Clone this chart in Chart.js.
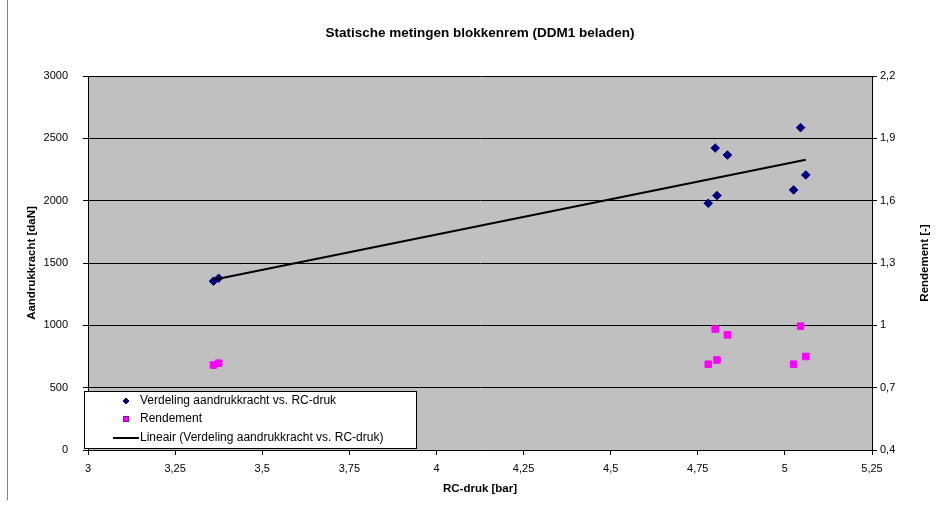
<!DOCTYPE html>
<html>
<head>
<meta charset="utf-8">
<script src="https://cdn.jsdelivr.net/npm/chart.js@4/dist/chart.umd.min.js"></script>
<style>
  html, body { margin: 0; padding: 0; background: #fff; }
  #wrap { width: 940px; height: 510px; }
</style>
</head>
<body>
<div id="wrap"><canvas id="c" width="940" height="510"></canvas></div>
<script>
// RC-druk [bar] per meting
const druk = [3.36, 3.375, 4.80, 4.835, 4.805, 4.78, 5.045, 5.06, 5.025];
// Aandrukkracht [daN]
const aandrukkracht = [1354, 1378, 2422, 2366, 2041, 1979, 2586, 2206, 2086];
// Rendement [-]
const rendement = [0.809, 0.818, 0.982, 0.954, 0.833, 0.813, 0.996, 0.850, 0.813];
// trendlijn (lineair), eindpunten
const trendX = [3.36, 5.06];
const trendY = [1366, 2329];

const xTicks = [3, 3.25, 3.5, 3.75, 4, 4.25, 4.5, 4.75, 5, 5.25];
const leftTicks = [0, 500, 1000, 1500, 2000, 2500, 3000];
const rightTicks = [0.4, 0.7, 1, 1.3, 1.6, 1.9, 2.2];

const FONT = "'Liberation Sans', Arial, sans-serif";
const comma = (v) => String(Math.round(v * 100) / 100).replace(".", ",");
const setTicks = (list) => (scale) => {
  scale.ticks = list.map((value) => ({ value }));
};

const decorations = {
  id: "decorations",
  beforeDraw(chart) {
    const { ctx, chartArea: a } = chart;
    ctx.save();
    ctx.fillStyle = "#fff";
    ctx.fillRect(0, 0, chart.width, chart.height);
    ctx.fillStyle = "#c0c0c0";
    ctx.fillRect(a.left, a.top, a.right - a.left, a.bottom - a.top);
    ctx.restore();
  },
  afterDraw(chart) {
    const { ctx, chartArea: a } = chart;
    const midY = (a.top + a.bottom) / 2;
    ctx.save();
    ctx.fillStyle = "#000";
    ctx.textBaseline = "middle";
    ctx.textAlign = "center";

    ctx.font = `bold 13.5px ${FONT}`;
    ctx.fillText("Statische metingen blokkenrem (DDM1 beladen)", (a.left + a.right) / 2, 33);

    ctx.font = `bold 11.5px ${FONT}`;
    ctx.fillText("RC-druk [bar]", (a.left + a.right) / 2, 489);

    ctx.save();
    ctx.translate(32, midY);
    ctx.rotate(-Math.PI / 2);
    ctx.fillText("Aandrukkracht [daN]", 0, 0);
    ctx.restore();

    ctx.save();
    ctx.translate(925, midY);
    ctx.rotate(-Math.PI / 2);
    ctx.fillText("Rendement [-]", 0, 0);
    ctx.restore();

    // legenda
    const lx = 84, ly = 391, lw = 332, lh = 57;
    ctx.fillStyle = "#fff";
    ctx.fillRect(lx, ly, lw, lh);
    ctx.strokeStyle = "#000";
    ctx.lineWidth = 1;
    ctx.strokeRect(lx + 0.5, ly + 0.5, lw, lh);

    const ds = chart.data.datasets;
    const rows = [401, 419, 438];
    ctx.font = `12px ${FONT}`;
    ctx.textAlign = "left";
    ds.forEach((d, i) => {
      const y = rows[i];
      if (d.showLine) {
        ctx.strokeStyle = d.borderColor;
        ctx.lineWidth = 2;
        ctx.beginPath();
        ctx.moveTo(113, y);
        ctx.lineTo(139, y);
        ctx.stroke();
      } else {
        Chart.helpers.drawPoint(ctx, {
          pointStyle: d.pointStyle,
          radius: i === 0 ? 3 : 3.6,
          borderWidth: 1,
          rotation: 0,
        }, 126, y);
        ctx.fillStyle = d.backgroundColor;
        ctx.strokeStyle = d.borderColor;
        ctx.fill();
      }
      ctx.fillStyle = "#000";
      ctx.fillText(d.label, 140, y);
    });

    // kader links
    ctx.strokeStyle = "#808080";
    ctx.lineWidth = 1;
    ctx.beginPath();
    ctx.moveTo(7.5, 0);
    ctx.lineTo(7.5, 500);
    ctx.stroke();
    ctx.restore();
  },
};

new Chart(document.getElementById("c"), {
  type: "scatter",
  data: {
    datasets: [
      {
        label: "Verdeling aandrukkracht vs. RC-druk",
        data: druk.map((x, i) => ({ x, y: aandrukkracht[i] })),
        yAxisID: "y",
        pointStyle: "rectRot",
        pointRadius: 4.3,
        backgroundColor: "#000080",
        borderColor: "#000080",
        borderWidth: 1,
        showLine: false,
        order: 2,
      },
      {
        label: "Rendement",
        data: druk.map((x, i) => ({ x, y: rendement[i] })),
        yAxisID: "y1",
        pointStyle: "rect",
        pointRadius: 4.6,
        backgroundColor: "#ff00ff",
        borderColor: "#ff00ff",
        borderWidth: 1,
        showLine: false,
        order: 1,
      },
      {
        label: "Lineair (Verdeling aandrukkracht vs. RC-druk)",
        data: trendX.map((x, i) => ({ x, y: trendY[i] })),
        yAxisID: "y",
        showLine: true,
        borderColor: "#000",
        borderWidth: 2,
        pointRadius: 0,
        order: 0,
      },
    ],
  },
  options: {
    responsive: false,
    animation: false,
    devicePixelRatio: 1,
    layout: { padding: { top: 76, left: 0, right: 0, bottom: 0 } },
    plugins: {
      legend: { display: false },
      title: { display: false },
      tooltip: { enabled: false },
    },
    scales: {
      x: {
        type: "linear",
        min: 3,
        max: 5.25,
        afterBuildTicks: setTicks(xTicks),
        afterFit: (s) => { s.height = 60; },
        grid: { drawOnChartArea: false, tickLength: 5, color: "#000" },
        border: { color: "#000" },
        ticks: {
          color: "#000",
          font: { family: FONT, size: 11 },
          padding: 7,
          maxRotation: 0,
          autoSkip: false,
          callback: (v) => comma(v),
        },
      },
      y: {
        position: "left",
        min: 0,
        max: 3000,
        afterBuildTicks: setTicks(leftTicks),
        afterFit: (s) => { s.width = 88; },
        grid: { color: "#000", tickLength: 5 },
        border: { color: "#000" },
        ticks: {
          color: "#000",
          font: { family: FONT, size: 11 },
          padding: 15,
          callback: (v) => String(v),
        },
      },
      y1: {
        position: "right",
        min: 0.4,
        max: 2.2,
        afterBuildTicks: setTicks(rightTicks),
        afterFit: (s) => { s.width = 68; },
        grid: { drawOnChartArea: false, color: "#000", tickLength: 5 },
        border: { color: "#000" },
        ticks: {
          color: "#000",
          font: { family: FONT, size: 11 },
          padding: 3,
          callback: (v) => comma(v),
        },
      },
    },
  },
  plugins: [decorations],
});
</script>
</body>
</html>
